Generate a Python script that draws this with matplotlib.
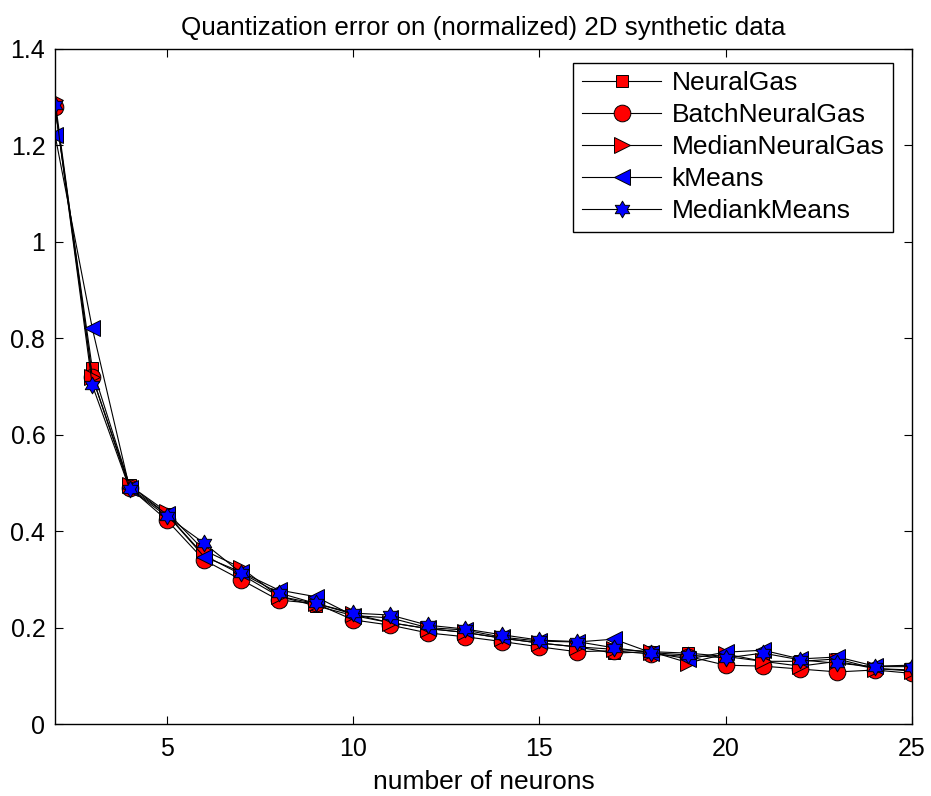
import matplotlib
matplotlib.use("Agg")
import matplotlib.pyplot as plt
import numpy as np
from matplotlib.path import Path

plt.rcParams['font.family'] = ['Liberation Sans', 'DejaVu Sans']

neurons = list(range(2, 26))
neural_gas = [1.28, 0.738, 0.495, 0.435, 0.35, 0.31, 0.265, 0.245, 0.225, 0.21, 0.198, 0.19,
              0.178, 0.168, 0.16, 0.147, 0.15, 0.147, 0.14, 0.13, 0.13, 0.135, 0.115, 0.112]
batch_neural_gas = [1.28, 0.72, 0.49, 0.423, 0.34, 0.299, 0.257, 0.25, 0.216, 0.205, 0.189, 0.181,
                    0.171, 0.16, 0.15, 0.152, 0.145, 0.14, 0.122, 0.12, 0.114, 0.108, 0.112, 0.105]
median_neural_gas = [1.294, 0.72, 0.495, 0.44, 0.36, 0.324, 0.265, 0.25, 0.228, 0.21, 0.198, 0.19,
                     0.178, 0.168, 0.16, 0.155, 0.15, 0.127, 0.145, 0.13, 0.12, 0.13, 0.115, 0.11]
kmeans = [1.222, 0.821, 0.49, 0.435, 0.347, 0.315, 0.278, 0.264, 0.225, 0.22, 0.2, 0.195,
          0.18, 0.172, 0.17, 0.176, 0.148, 0.135, 0.149, 0.153, 0.135, 0.139, 0.12, 0.122]
median_kmeans = [1.284, 0.703, 0.488, 0.431, 0.375, 0.313, 0.272, 0.25, 0.23, 0.226, 0.205, 0.197,
                 0.185, 0.174, 0.171, 0.158, 0.148, 0.143, 0.137, 0.147, 0.133, 0.126, 0.119, 0.119]

labels = ['NeuralGas', 'BatchNeuralGas', 'MedianNeuralGas', 'kMeans', 'MediankMeans']
xticks = [5, 10, 15, 20, 25]
yticks = [0, 0.2, 0.4, 0.6, 0.8, 1.0, 1.2, 1.4]
ytick_labels = ['0', '0.2', '0.4', '0.6', '0.8', '1', '1.2', '1.4']

# hexagram marker
ang = np.pi / 2 + np.arange(12) * np.pi / 6
rad = np.where(np.arange(12) % 2 == 0, 1.0, 0.577)
verts = np.column_stack([rad * np.cos(ang), rad * np.sin(ang)])
verts = np.vstack([verts, verts[:1]])
hexagram = Path(verts, closed=True)

fig = plt.figure(figsize=(9.31, 7.96), dpi=100)
ax = fig.add_axes([55/931, 72/796, 857/931, 675/796])

series = [neural_gas, batch_neural_gas, median_neural_gas, kmeans, median_kmeans]
markers = ['s', 'o', '>', '<', hexagram]
colors = ['red', 'red', 'red', 'blue', 'blue']
msizes = [9, 12, 12, 12, 12]
for ys, m, c, ms, lab in zip(series, markers, colors, msizes, labels):
    ax.plot(neurons, ys, color='black', linewidth=0.8, marker=m, markersize=ms,
            markerfacecolor=c, markeredgecolor='black', markeredgewidth=0.7, label=lab)

ax.set_xlim(2, 25)
ax.set_ylim(0, 1.4)
ax.set_xticks(xticks)
ax.set_yticks(yticks)
ax.set_yticklabels(ytick_labels)
ax.tick_params(direction='in', top=True, right=True, labelsize=18, length=6, width=0.8)
ax.tick_params(axis='x', pad=9)
ax.tick_params(axis='y', pad=7)
for s in ax.spines.values():
    s.set_linewidth(1.0)
ax.set_xlabel('number of neurons', fontsize=19, labelpad=7)
ax.set_title('Quantization error on (normalized) 2D synthetic data', fontsize=18.7, pad=10)

leg = ax.legend(loc='upper right', bbox_to_anchor=(0.9778, 0.9793), borderaxespad=0,
                fontsize=19, frameon=True, fancybox=False,
                edgecolor='black', framealpha=1, handlelength=3.0, handletextpad=0.4,
                labelspacing=0.3, borderpad=0.32)
leg.get_frame().set_linewidth(1.0)

fig.savefig('out.png', dpi=100)
